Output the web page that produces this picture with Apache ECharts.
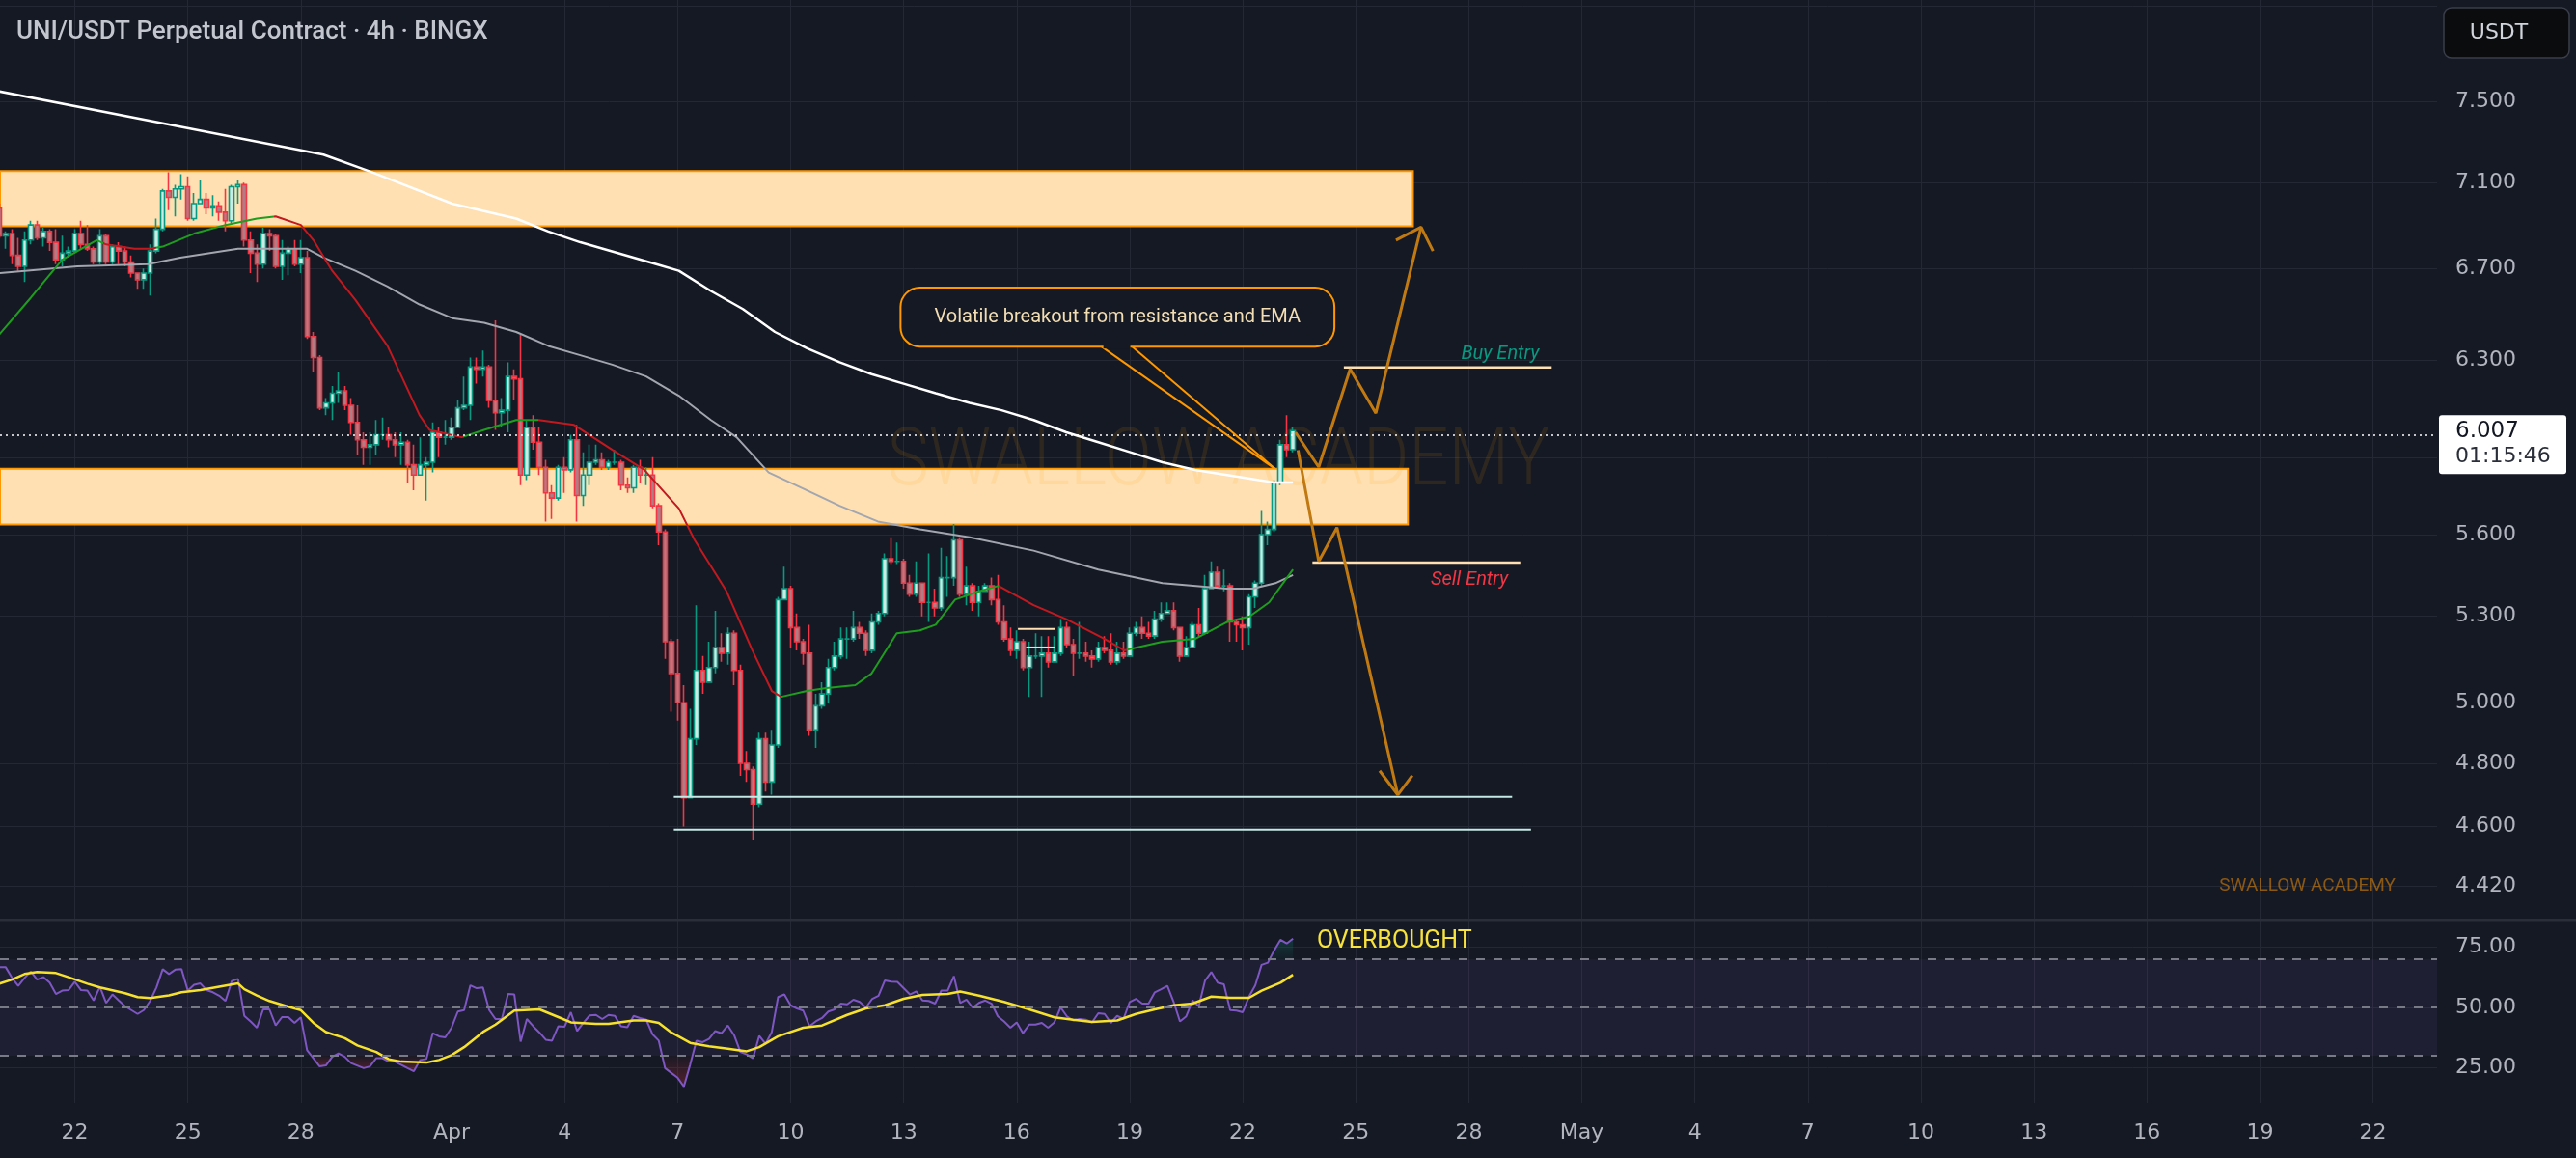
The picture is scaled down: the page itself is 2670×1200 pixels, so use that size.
<!DOCTYPE html>
<html>
<head>
<meta charset="utf-8">
<script src="https://cdn.jsdelivr.net/npm/echarts@6/dist/echarts.min.js"></script>
<style>
html,body{margin:0;padding:0;background:#151924;}
#chart{width:2670px;height:1200px;}
</style>
</head>
<body>
<div id="chart"></div>
<script>
// 4h candles, index 0 = Mar 20 00:00, open = previous close
const firstOpen = 6.98;
const closes = [
  6.85,6.86,6.76,6.71,6.83,6.90,6.84,6.87,6.82,6.74,
  6.77,6.78,6.86,6.81,6.79,6.73,6.85,6.73,6.80,6.78,
  6.73,6.68,6.65,6.68,6.78,6.88,7.06,7.03,7.07,7.08,
  6.93,7.00,7.02,6.98,6.99,6.96,6.92,7.08,7.09,6.83,
  6.77,6.72,6.86,6.85,6.71,6.77,6.79,6.72,6.75,6.40,
  6.31,6.10,6.12,6.16,6.17,6.11,6.04,5.97,5.94,5.95,
  5.99,5.99,5.97,5.95,5.96,5.87,5.83,5.87,5.88,6.00,
  5.98,5.98,6.02,6.10,6.11,6.27,6.26,6.27,6.13,6.08,
  6.09,6.23,6.22,5.83,6.02,5.96,5.86,5.76,5.74,5.86,
  5.85,5.97,5.75,5.83,5.88,5.89,5.86,5.88,5.88,5.79,
  5.78,5.86,5.83,5.83,5.71,5.61,5.21,5.10,5.00,4.69,
  4.88,5.11,5.07,5.12,5.19,5.17,5.24,5.11,4.80,4.78,
  4.67,4.88,4.74,4.86,5.36,5.40,5.26,5.21,5.17,4.91,
  4.99,5.03,5.12,5.16,5.22,5.22,5.26,5.24,5.18,5.28,
  5.31,5.51,5.50,5.50,5.42,5.38,5.42,5.35,5.35,5.33,
  5.44,5.44,5.58,5.38,5.41,5.35,5.39,5.41,5.36,5.28,
  5.22,5.18,5.21,5.12,5.16,5.16,5.17,5.14,5.17,5.26,
  5.20,5.17,5.17,5.16,5.15,5.19,5.18,5.14,5.17,5.16,
  5.24,5.26,5.24,5.23,5.29,5.31,5.32,5.26,5.16,5.19,
  5.27,5.24,5.40,5.46,5.41,5.41,5.28,5.27,5.26,5.37,
  5.42,5.60,5.62,5.80,5.95,5.93,6.007
];
const highs = [
  7.00,6.87,6.88,6.84,6.87,6.92,6.92,6.89,6.88,6.88,
  6.85,6.80,6.88,6.92,6.90,6.80,6.88,6.86,6.81,6.82,
  6.80,6.76,6.68,6.70,6.81,6.93,7.07,7.15,7.09,7.14,
  7.13,7.05,7.11,7.05,7.04,7.01,7.07,7.09,7.11,7.10,
  6.87,6.81,6.89,6.88,6.86,6.83,6.80,6.83,6.83,6.78,
  6.42,6.32,6.14,6.19,6.25,6.19,6.14,6.11,6.00,6.00,
  6.05,6.06,6.02,6.00,6.00,5.97,5.95,5.98,5.90,6.04,
  6.02,6.05,6.06,6.13,6.23,6.31,6.31,6.34,6.28,6.47,
  6.14,6.29,6.26,6.41,6.05,6.07,6.02,5.89,5.79,5.87,
  5.90,5.99,6.03,5.92,5.95,5.95,5.92,5.89,5.93,5.89,
  5.82,5.87,5.89,5.86,5.90,5.72,5.62,5.22,5.22,5.06,
  4.98,5.34,5.16,5.21,5.32,5.24,5.26,5.25,5.13,4.84,
  4.79,4.90,4.90,4.91,5.37,5.48,5.41,5.31,5.22,5.27,
  5.03,5.07,5.15,5.21,5.26,5.26,5.32,5.28,5.25,5.31,
  5.32,5.53,5.59,5.57,5.51,5.45,5.50,5.42,5.53,5.40,
  5.55,5.52,5.64,5.59,5.48,5.42,5.41,5.42,5.44,5.45,
  5.34,5.26,5.25,5.22,5.21,5.24,5.23,5.23,5.23,5.29,
  5.28,5.22,5.28,5.21,5.18,5.21,5.23,5.24,5.21,5.21,
  5.26,5.28,5.30,5.28,5.32,5.35,5.35,5.35,5.26,5.23,
  5.28,5.33,5.45,5.50,5.48,5.47,5.42,5.29,5.30,5.38,
  5.43,5.69,5.65,5.81,5.97,6.07,6.02
];
const lows = [
  6.84,6.79,6.72,6.69,6.64,6.81,6.83,6.80,6.78,6.72,
  6.71,6.75,6.77,6.79,6.78,6.72,6.72,6.72,6.72,6.72,
  6.71,6.66,6.61,6.61,6.58,6.77,6.87,6.97,6.94,7.02,
  6.92,6.92,7.00,6.95,6.94,6.92,6.87,6.91,7.00,6.80,
  6.68,6.64,6.70,6.78,6.70,6.65,6.67,6.71,6.68,6.39,
  6.25,6.09,6.07,6.05,6.12,6.09,5.99,5.91,5.87,5.87,
  5.91,5.97,5.94,5.90,5.87,5.80,5.77,5.83,5.73,5.84,
  5.90,5.95,5.97,6.02,6.09,6.05,6.20,6.23,6.10,6.01,
  6.02,6.00,6.13,5.79,5.81,5.93,5.83,5.65,5.66,5.73,
  5.76,5.84,5.65,5.71,5.79,5.87,5.85,5.85,5.87,5.77,
  5.76,5.76,5.80,5.79,5.70,5.56,5.15,4.97,4.94,4.60,
  4.69,4.86,5.03,5.07,5.10,5.14,5.13,5.06,4.76,4.74,
  4.56,4.66,4.71,4.70,4.85,5.36,5.19,5.18,5.13,4.89,
  4.85,4.98,5.00,5.11,5.15,5.15,5.21,5.22,5.16,5.17,
  5.27,5.30,5.49,5.49,5.40,5.37,5.37,5.30,5.28,5.30,
  5.32,5.37,5.41,5.37,5.34,5.32,5.30,5.39,5.34,5.27,
  5.21,5.16,5.15,5.11,5.02,5.15,5.02,5.12,5.14,5.16,
  5.19,5.09,5.15,5.14,5.12,5.14,5.17,5.13,5.13,5.15,
  5.16,5.23,5.22,5.22,5.22,5.28,5.31,5.25,5.14,5.16,
  5.19,5.23,5.24,5.40,5.40,5.39,5.21,5.21,5.18,5.20,
  5.33,5.41,5.56,5.61,5.79,5.90,5.92
];

// moving averages [candle index, price]
const emaLong = [[0,7.55],[26,7.39],[51.6,7.235],[59.3,7.15],[72.1,7.00],[82.3,6.93],[87.4,6.87],[92.5,6.82],
  [104.6,6.72],[108.2,6.69],[113.3,6.60],[118.4,6.52],[123.5,6.42],[128.6,6.35],[133.8,6.29],[138.9,6.24],
  [144,6.20],[149.1,6.16],[154.5,6.12],[159.6,6.09],[164.7,6.05],[169.9,6.00],[175,5.96],[180.1,5.92],
  [185.2,5.88],[190.4,5.85],[195.5,5.83],[200.6,5.81],[203.2,5.80],[206,5.80]];
const emaMid = [[0,6.68],[12.4,6.71],[23.7,6.72],[28.8,6.75],[38,6.79],[46,6.79],[49,6.79],[51.6,6.75],
  [56.7,6.69],[61.8,6.62],[66.9,6.54],[72.1,6.48],[77.2,6.46],[82.3,6.42],[87.4,6.36],[92.5,6.32],
  [97.6,6.28],[103,6.23],[108.2,6.15],[113.3,6.05],[117.4,5.98],[122.5,5.84],[128.6,5.77],[133.8,5.71],
  [139.9,5.65],[146.6,5.62],[154.5,5.59],[164.7,5.54],[175,5.47],[185.2,5.42],[195.5,5.40],[199.6,5.40],
  [203.2,5.42],[206,5.45]];
const emaFast = [[0,6.41],[5,6.57],[10,6.74],[15.5,6.83],[17,6.81],[21.5,6.79],[24,6.79],[26,6.80],[31,6.86],
  [36,6.90],[41,6.93],[44,6.94],[48,6.90],[50,6.83],[53,6.69],[56.7,6.56],[61.8,6.36],[66.9,6.07],[68.5,6.01],
  [73.6,5.98],[77.2,6.01],[82.3,6.05],[85.9,6.05],[91.5,6.03],[97.6,5.93],[102.7,5.85],[108.2,5.70],
  [110.7,5.58],[115.8,5.39],[119.9,5.18],[123,5.04],[124.5,5.02],[128.6,5.04],[131.7,5.05],[136.3,5.06],
  [138.9,5.10],[142.9,5.24],[146.6,5.25],[149.1,5.27],[152.2,5.36],[156,5.39],[159.1,5.41],[164.7,5.34],
  [169.9,5.29],[176,5.22],[179.1,5.18],[185.2,5.21],[190.4,5.22],[195.5,5.28],[199.1,5.30],[202.2,5.35],[206,5.47]];
const emaFastBearish = [[16.5,25],[43.8,73.8],[85.9,124.5],[159.1,179.6]];

// RSI and its average [candle index, value]
const rsi = [[0,66.7],[1,66.7],[2,62.3],[3,59.0],[4,62.3],[5,65.0],[6,61.6],[7,62.6],[8,60.3],[9,55.6],
  [10,57.0],[11,57.2],[12,60.7],[13,57.2],[14,57.0],[15,52.9],[16,58.6],[17,51.9],[18,55.4],[19,52.9],
  [20,50.5],[22,47.3],[23,48.9],[24,52.7],[25,58.3],[26,65.9],[27,63.9],[28,65.7],[29,65.9],[30,57.0],
  [31,59.4],[32,60.0],[33,57.2],[34,56.3],[35,54.9],[36,52.7],[37,61.0],[38,61.9],[39,46.5],[40,44.2],
  [41,41.6],[42,49.2],[43,49.2],[44,42.5],[45,46.0],[46,46.0],[47,43.6],[48,45.9],[49,32.2],[50,28.9],
  [51,25.5],[52,25.9],[53,29.5],[54,30.9],[55,29.5],[56,26.9],[58,24.8],[59,25.5],[60,28.9],[61,28.9],
  [62,27.5],[63,27.5],[65,24.8],[66,23.5],[67,28.2],[68,28.6],[69,39.3],[70,38.0],[71,37.6],[72,41.6],
  [73,48.3],[74,48.9],[75,59.2],[76,58.0],[77,58.3],[78,48.9],[79,45.2],[80,45.2],[81,55.6],[82,55.4],
  [83,35.8],[84,45.2],[85,42.2],[86,39.6],[87,36.6],[88,36.2],[89,42.2],[90,42.0],[91,48.0],[92,40.2],
  [93,43.6],[94,46.7],[95,46.9],[96,45.2],[97,46.9],[98,46.5],[99,42.2],[100,41.8],[101,46.5],[102,45.6],
  [103,44.9],[104,38.9],[105,36.2],[106,24.8],[107,22.8],[108,20.8],[109,17.1],[110,26.2],[111,36.2],[112,35.6],
  [113,36.9],[114,40.2],[115,39.3],[116,42.5],[117,38.5],[118,31.5],[119,30.5],[120,28.9],[121,38.2],[122,34.9],
  [123,39.8],[124,54.3],[125,55.4],[126,50.9],[127,49.6],[128,48.7],[129,42.2],[130,44.2],[131,45.6],[132,48.3],
  [133,49.2],[134,51.6],[135,51.3],[136,53.2],[137,52.3],[138,50.0],[139,53.6],[140,54.9],[141,61.2],[142,60.7],
  [143,60.6],[144,58.0],[145,55.4],[146,56.7],[147,52.9],[148,52.7],[149,51.6],[150,57.0],[151,57.0],[152,63.0],
  [153,51.9],[154,53.3],[155,49.9],[156,51.9],[157,52.9],[158,51.6],[159,46.3],[160,44.2],[161,41.6],[162,43.8],
  [163,39.3],[164,42.9],[165,42.9],[166,43.6],[167,41.6],[168,43.8],[169,50.0],[170,46.3],[171,44.6],[172,45.2],
  [173,44.9],[174,43.8],[175,47.6],[176,47.3],[177,43.6],[178,46.5],[179,45.2],[180,52.3],[181,53.6],[182,51.6],
  [183,51.6],[184,56.3],[185,57.6],[186,59.0],[187,52.3],[188,44.2],[189,46.3],[190,52.9],[191,50.5],[192,61.2],
  [193,64.7],[194,60.3],[195,59.6],[196,48.9],[197,48.7],[198,48.0],[199,54.5],[200,59.2],[201,67.7],[202,68.6],
  [203,73.7],[204,78.1],[205,76.6],[206,78.6]];
const rsiAvg = [[0,59.9],[2,61.6],[4,63.9],[6,64.7],[9,64.3],[11,62.6],[14,59.9],[16,58.3],[20,55.9],[22,54.3],
  [24,53.9],[27,55.0],[29,56.3],[32,57.2],[35,58.6],[38,60.0],[39,57.6],[41,55.0],[43,52.7],[46,50.3],[48,48.9],
  [50,43.6],[52,39.8],[55,37.2],[57,34.2],[60,31.5],[62,28.5],[64,27.5],[68,27.1],[70,28.2],[72,30.2],[74,33.5],
  [77,39.8],[79,42.9],[82,48.7],[86,49.2],[89,46.0],[91,43.8],[95,43.2],[97,43.2],[101,44.6],[103,44.6],[105,43.6],
  [107,39.6],[110,35.3],[113,33.9],[116,32.9],[119,31.8],[121,33.5],[124,38.0],[128,41.6],[131,42.5],[135,46.9],
  [138,49.6],[141,50.9],[144,53.6],[147,55.2],[151,55.6],[153,56.6],[156,54.9],[160,52.3],[164,49.2],[168,45.9],
  [171,44.9],[174,44.0],[178,44.6],[181,47.3],[184,49.2],[187,50.9],[190,51.6],[193,54.5],[196,54.0],[199,54.0],
  [201,57.0],[204,60.3],[206,63.6]];
const rsiOverbought = [[202.3,70],[203,73.7],[204,78.1],[205,76.6],[206,78.6]];
const rsiOversold = [
  [[49.7,30],[50,28.9],[51,25.5],[52,25.9],[53,29.5],[53.3,30]],
  [[54.7,30],[55,29.5],[56,26.9],[58,24.8],[59,25.5],[60,28.9],[61,28.9],[62,27.5],[63,27.5],[65,24.8],[66,23.5],[67,28.2],[68,28.6],[68.1,30]],
  [[105.5,30],[106,24.8],[107,22.8],[108,20.8],[109,17.1],[110,26.2],[110.4,30]]
];

// drawings: zones [end index, low, high], levels, arrows
const resistZone = [225.1, 6.894, 7.156];
const supportZone = [224.3, 5.639, 5.854];
const supportLines = [[107.4, 240.9, 4.693], [107.4, 243.9, 4.590]];
const buyEntry = [214.1, 247.2, 6.268];
const sellEntry = [209.1, 242.2, 5.496];
const smallLevels = [[162.2, 168.1, 5.255], [163.5, 168.1, 5.19]];
const upPath = [[206.4,6.00],[210.1,5.861],[215.1,6.261],[219.2,6.078],[226.4,6.89]];
const upHead = [[222.4,6.83],[226.4,6.89],[228.3,6.78]];
const downPath = [[206.8,5.928],[210.1,5.50],[213.0,5.627],[222.7,4.699]];
const downHead = [[219.8,4.776],[222.7,4.699],[225.0,4.761]];
const calloutBox = [143.5, 212.6, 6.615, 6.357];
const calloutTip = [203.1, 5.855];
const calloutRoots = [175.5, 180.4];

// axes
const dayTicks = [12,30,48,72,90,108,126,144,162,180,198,216,234,252,270,288,306,324,342,360,378];
const dayLabels = ['22','25','28','Apr','4','7','10','13','16','19','22','25','28','May','4','7','10','13','16','19','22'];
const priceTicks = [7.5,7.1,6.7,6.3,5.6,5.3,5.0,4.8,4.6,4.42];
const priceGrid = [8.0,7.5,7.1,6.7,6.3,5.9,5.6,5.3,5.0,4.8,4.6,4.42];
const rsiTicks = [25,50,75];

const X_MIN = 0.09, X_MAX = 388.2;
const P_MIN = 4.32, P_MAX = 8.03;
const RSI_MIN = 10.3, RSI_MAX = 86.5;

const ln = Math.log;
const BG = '#151924', GRID = '#242835', AXIS_TXT = '#b2b5be';
const UP = '#089981', DOWN = '#f23645';

const candles = closes.map((c, i) => {
  const o = i === 0 ? firstOpen : closes[i - 1];
  const hi = Math.max(highs[i], o, c), lo = Math.min(lows[i], o, c);
  return [i, ln(o), ln(c), ln(lo), ln(hi)];
});
const lastPrice = closes[closes.length - 1];

const chart = echarts.init(document.getElementById('chart'));

function priceLine(pts, color, width, z) {
  const ls = { width: width };
  if (color) ls.color = color;
  return {
    type: 'line', xAxisIndex: 0, yAxisIndex: 0, silent: true, symbol: 'none', showSymbol: false,
    data: pts.map(p => [p[0], ln(p[1])]), z: z || 4, lineStyle: ls
  };
}
function level(l, color, width) {
  return priceLine([[l[0], l[2]], [l[1], l[2]]], color, width, 4);
}

const series = [];
series.push({
  type: 'candlestick', xAxisIndex: 0, yAxisIndex: 0, data: candles,
  encode: { x: 0, y: [1, 2, 3, 4] }, barWidth: 5, z: 2, silent: true,
  itemStyle: { color: '#c9ece5', color0: '#b27c84', borderColor: UP, borderColor0: DOWN,
    borderColorDoji: UP, borderWidth: 1.6 },
  markArea: {
    silent: true,
    itemStyle: { color: '#ffe0b2', borderColor: '#ff9800', borderWidth: 2 },
    data: [
      [{ xAxis: X_MIN, yAxis: ln(resistZone[1]) }, { xAxis: resistZone[0], yAxis: ln(resistZone[2]) }],
      [{ xAxis: X_MIN, yAxis: ln(supportZone[1]) }, { xAxis: supportZone[0], yAxis: ln(supportZone[2]) }]
    ]
  },
  markLine: {
    silent: true, symbol: ['none', 'none'], label: { show: false },
    lineStyle: { color: '#ffffff', type: [2, 4], width: 1.5 },
    data: [{ yAxis: ln(lastPrice) }]
  }
});
series.push(priceLine(emaLong, '#ffffff', 2.5, 3));
series.push(priceLine(emaMid, '#a3a6af', 2, 3));
const fastIdx = series.length;
series.push(priceLine(emaFast, null, 2, 3));

supportLines.forEach(l => series.push(level(l, '#c4e8e4', 2)));
series.push(level(buyEntry, '#ffe0b2', 2.5));
series.push(level(sellEntry, '#ffe0b2', 2.5));
smallLevels.forEach(l => series.push(level(l, '#ffe0b2', 2)));
[upPath, upHead, downPath, downHead].forEach(p => series.push(priceLine(p, '#c17a12', 3, 5)));
calloutRoots.forEach(k => series.push(priceLine([[k, calloutBox[3]], calloutTip], '#ff9800', 2, 6)));

// RSI pane
series.push({
  type: 'line', xAxisIndex: 1, yAxisIndex: 1, data: rsi, symbol: 'none', silent: true, z: 3,
  lineStyle: { color: '#7e57c2', width: 2 },
  markArea: { silent: true, itemStyle: { color: 'rgba(126,87,194,0.1)' }, data: [[{ yAxis: 30 }, { yAxis: 70 }]] },
  markLine: {
    silent: true, symbol: ['none', 'none'], label: { show: false },
    lineStyle: { color: '#787b86', type: [9, 9], width: 2 },
    data: [{ yAxis: 70 }, { yAxis: 50 }, { yAxis: 30 }]
  }
});
series.push({
  type: 'line', xAxisIndex: 1, yAxisIndex: 1, data: rsiAvg, symbol: 'none', silent: true, z: 4,
  lineStyle: { color: '#f5e12e', width: 2.5 }
});
series.push({
  type: 'line', xAxisIndex: 1, yAxisIndex: 1, data: rsiOverbought, symbol: 'none', silent: true, z: 2,
  lineStyle: { width: 0 },
  areaStyle: { origin: 70, color: new echarts.graphic.LinearGradient(0, 0, 0, 1,
    [{ offset: 0, color: 'rgba(8,153,129,0.35)' }, { offset: 1, color: 'rgba(8,153,129,0.05)' }]) }
});
rsiOversold.forEach(seg => series.push({
  type: 'line', xAxisIndex: 1, yAxisIndex: 1, data: seg, symbol: 'none', silent: true, z: 2,
  lineStyle: { width: 0 },
  areaStyle: { origin: 30, color: new echarts.graphic.LinearGradient(0, 0, 0, 1,
    [{ offset: 0, color: 'rgba(242,54,69,0.04)' }, { offset: 1, color: 'rgba(242,54,69,0.4)' }]) }
}));

const xBase = {
  type: 'value', min: X_MIN, max: X_MAX,
  axisLine: { show: false },
  axisTick: { show: false, customValues: dayTicks },
  splitLine: { show: true, lineStyle: { color: GRID, width: 1 } }
};

chart.setOption({
  backgroundColor: BG,
  animation: false,
  grid: [
    { left: 0, right: 144, top: 0, height: 953 },
    { left: 0, right: 144, top: 953, height: 190 }
  ],
  xAxis: [
    Object.assign({ gridIndex: 0, axisLabel: { show: false, customValues: dayTicks } }, xBase),
    Object.assign({ gridIndex: 1, axisLabel: {
      show: true, customValues: dayTicks, margin: 20, color: AXIS_TXT, fontSize: 22, fontFamily: 'DejaVu Sans',
      formatter: v => { const i = dayTicks.indexOf(v); return i < 0 ? '' : dayLabels[i]; }
    } }, xBase)
  ],
  yAxis: [
    {
      type: 'value', gridIndex: 0, position: 'right', min: ln(P_MIN), max: ln(P_MAX),
      axisLine: { show: false },
      axisTick: { show: false, customValues: priceGrid.map(ln) },
      axisLabel: { customValues: priceTicks.map(ln), margin: 19, color: AXIS_TXT, fontSize: 22,
        fontFamily: 'DejaVu Sans', formatter: v => Math.exp(v).toFixed(3) },
      splitLine: { show: true, lineStyle: { color: GRID, width: 1 } }
    },
    {
      type: 'value', gridIndex: 1, position: 'right', min: RSI_MIN, max: RSI_MAX,
      axisLine: { show: false },
      axisTick: { show: false, customValues: rsiTicks },
      axisLabel: { customValues: rsiTicks, margin: 19, color: AXIS_TXT, fontSize: 22,
        fontFamily: 'DejaVu Sans', formatter: v => v.toFixed(2) },
      splitLine: { show: true, lineStyle: { color: GRID, width: 1 } }
    }
  ],
  visualMap: [{
    type: 'piecewise', show: false, seriesIndex: fastIdx, dimension: 0,
    pieces: emaFastBearish.map(r => ({ gte: r[0], lt: r[1], color: '#c2181f' })),
    outOfRange: { color: '#1e9e1e' }
  }],
  series: series
});

// annotations placed from data coordinates
const P0 = (k, p) => chart.convertToPixel({ gridIndex: 0 }, [k, ln(p)]);
const P1 = (k, v) => chart.convertToPixel({ gridIndex: 1 }, [k, v]);

const cTL = P0(calloutBox[0], calloutBox[2]);
const cBR = P0(calloutBox[1], calloutBox[3]);
const rootL = P0(calloutRoots[0], calloutBox[3]);
const rootR = P0(calloutRoots[1], calloutBox[3]);
const cText = P0((calloutBox[0] + calloutBox[1]) / 2, Math.sqrt(calloutBox[2] * calloutBox[3]));
const buyTxt = P0(239.0, 6.325);
const sellTxt = P0(234.1, 5.433);
const obTxt = P1(209.8, 77.3);
const py = P0(X_MIN, lastPrice)[1];

chart.setOption({
  graphic: [
    { type: 'text', x: 17, y: 33, z: 20, style: { text: 'UNI/USDT Perpetual Contract · 4h · BINGX',
      font: '500 26px Roboto', fill: '#c3c6ce', align: 'left', verticalAlign: 'middle' } },
    { type: 'text', x: 1263, y: 481, z: 1.5, scaleX: 0.86, style: { text: 'SWALLOW ACADEMY',
      font: '300 84px Roboto', fill: 'rgba(255,152,0,0.11)', align: 'center', verticalAlign: 'middle' } },
    { type: 'text', x: 2483, y: 918, z: 20, style: { text: 'SWALLOW ACADEMY',
      font: '19px Roboto', fill: 'rgba(255,152,0,0.5)', align: 'right', verticalAlign: 'middle' } },
    { type: 'rect', z: 20, shape: { x: 2533, y: 8, width: 130, height: 52, r: 8 },
      style: { fill: '#0b0c0e', stroke: '#3a3e4a', lineWidth: 1.5 } },
    { type: 'text', x: 2590, y: 34, z: 21, style: { text: 'USDT', font: '22px DejaVu Sans',
      fill: '#d1d4dc', align: 'center', verticalAlign: 'middle' } },
    { type: 'rect', z: 20, shape: { x: 0, y: 952, width: 2670, height: 2.5 }, style: { fill: '#2a2e39' } },
    { type: 'rect', z: 10, shape: { x: cTL[0], y: cTL[1], width: cBR[0] - cTL[0], height: cBR[1] - cTL[1], r: 20 },
      style: { fill: BG, stroke: '#ff9800', lineWidth: 2 } },
    { type: 'line', z: 11, shape: { x1: rootL[0] + 2, y1: rootL[1], x2: rootR[0] - 2, y2: rootR[1] },
      style: { stroke: BG, lineWidth: 4 } },
    { type: 'text', x: cText[0], y: cText[1], z: 12, style: { text: 'Volatile breakout from resistance and EMA',
      font: '20px Roboto', fill: '#f3ddb3', align: 'center', verticalAlign: 'middle' } },
    { type: 'text', x: buyTxt[0], y: buyTxt[1], z: 12, style: { text: 'Buy Entry',
      font: 'italic 20px Roboto', fill: UP, align: 'center', verticalAlign: 'middle' } },
    { type: 'text', x: sellTxt[0], y: sellTxt[1], z: 12, style: { text: 'Sell Entry',
      font: 'italic 20px Roboto', fill: DOWN, align: 'center', verticalAlign: 'middle' } },
    { type: 'text', x: obTxt[0], y: obTxt[1], z: 12, style: { text: 'OVERBOUGHT',
      font: '25px Roboto', fill: '#f7e23e', align: 'left', verticalAlign: 'middle' } },
    { type: 'rect', z: 22, shape: { x: 2528, y: py - 16, width: 132, height: 61, r: 3 }, style: { fill: '#ffffff' } },
    { type: 'text', x: 2545, y: py + 1, z: 23, style: { text: lastPrice.toFixed(3), font: '23px DejaVu Sans',
      fill: '#131722', align: 'left', verticalAlign: 'middle' } },
    { type: 'text', x: 2545, y: py + 27, z: 23, style: { text: '01:15:46', font: '22px DejaVu Sans',
      fill: '#2a2e39', align: 'left', verticalAlign: 'middle' } }
  ]
});
</script>
</body>
</html>
